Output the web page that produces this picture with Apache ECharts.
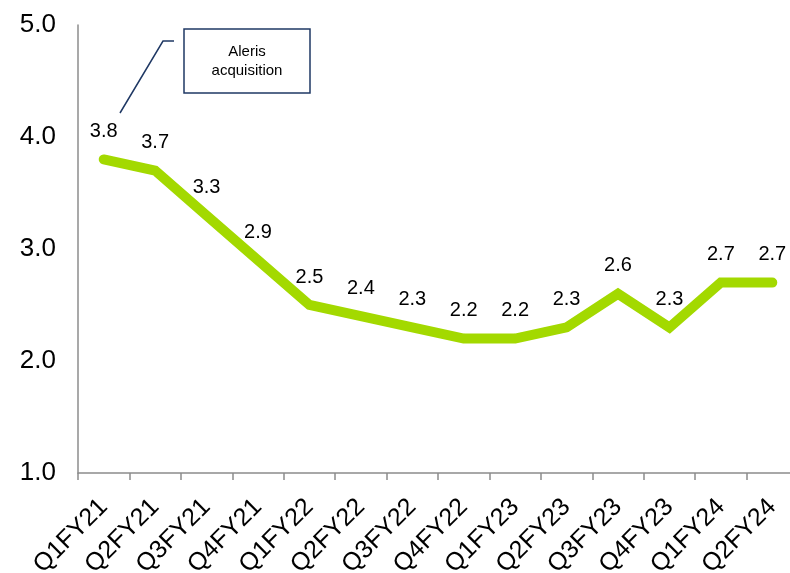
<!DOCTYPE html>
<html>
<head>
<meta charset="utf-8">
<script src="https://cdn.jsdelivr.net/npm/echarts@6/dist/echarts.min.js"></script>
<style>html,body{margin:0;padding:0;background:#fff}#c{width:790px;height:573px}</style>
</head>
<body>
<div id="c"></div>
<script>
const categories = ["Q1FY21","Q2FY21","Q3FY21","Q4FY21","Q1FY22","Q2FY22","Q3FY22","Q4FY22","Q1FY23","Q2FY23","Q3FY23","Q4FY23","Q1FY24","Q2FY24"];
const values = [3.8,3.7,3.3,2.9,2.5,2.4,2.3,2.2,2.2,2.3,2.6,2.3,2.7,2.7];
const annotationText = "Aleris\nacquisition";

const chart = echarts.init(document.getElementById('c'));
const font = '"Liberation Sans", Arial, sans-serif';
chart.setOption({
  animation: false,
  grid: {left: 78, top: 25, height: 448, width: 720, containLabel: false, outerBoundsMode: 'none'},
  xAxis: {
    type: 'category',
    data: categories,
    boundaryGap: true,
    axisLine: {lineStyle: {color: '#8c8c8c', width: 1.5}},
    axisTick: {show: true, length: 7, lineStyle: {color: '#8c8c8c', width: 1.5}},
    axisLabel: {rotate: 45, fontSize: 25, color: '#000', fontFamily: font, margin: 30, interval: 0}
  },
  yAxis: {
    type: 'value', min: 1, max: 5, interval: 1,
    axisLine: {show: true, lineStyle: {color: '#8c8c8c', width: 1.5}},
    axisTick: {show: false},
    splitLine: {show: false},
    axisLabel: {fontSize: 26, color: '#000', fontFamily: font, margin: 22, formatter: v => v.toFixed(1)}
  },
  series: [{
    type: 'line',
    data: values,
    symbol: 'circle',
    symbolSize: 2,
    showSymbol: true,
    itemStyle: {color: 'rgba(163,217,0,0)'},
    lineStyle: {color: '#A3D900', width: 10, cap: 'round', join: 'miter'},
    label: {show: true, position: 'top', distance: 17, fontSize: 20, color: '#000', fontFamily: font, formatter: p => Number(p.value).toFixed(1)},
    labelLayout: {hideOverlap: false}
  }],
  graphic: [
    {type: 'polyline', shape: {points: [[120,113],[163,41],[174,41]]}, style: {stroke: '#1F3864', lineWidth: 1.5, fill: null}},
    {type: 'rect', shape: {x: 184, y: 29, width: 126, height: 64}, style: {stroke: '#1F3864', lineWidth: 1.5, fill: '#fff'}},
    {type: 'text', x: 247, y: 61, style: {text: annotationText, fontSize: 15, fontFamily: font, fill: '#000', align: 'center', verticalAlign: 'middle', lineHeight: 19}}
  ]
});
</script>
</body>
</html>
